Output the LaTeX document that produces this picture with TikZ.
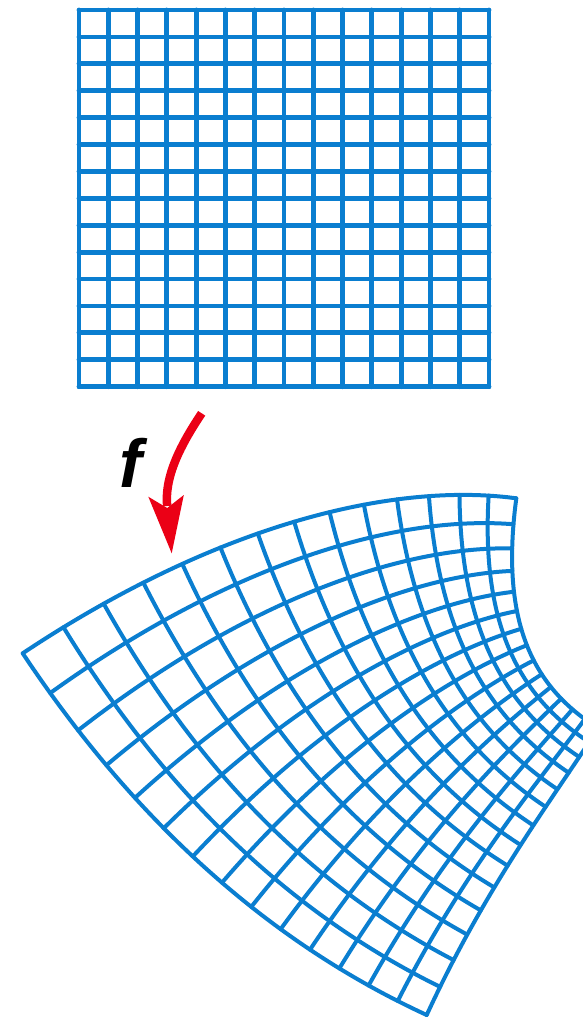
\documentclass[tikz,border=0pt]{standalone}
\usepackage{fontspec}
\setmainfont{Liberation Sans}
\definecolor{gridblue}{RGB}{10,126,208}
\definecolor{arrowred}{RGB}{235,0,22}
\begin{document}
\begin{tikzpicture}[x=1pt,y=1pt,
  topgrid/.style={draw=gridblue,line width=4.8pt,line join=round,line cap=round},
  mapgrid/.style={draw=gridblue,line width=4pt,line join=round,line cap=round},
  redshaft/.style={draw=arrowred,line width=8.5pt,line cap=butt},
  redhead/.style={fill=arrowred,draw=none},
  declare function={
    ReF(\a,\b)=22.7+574*(\a)-382.2*(\b)-43.65*((\a)*(\a)-(\b)*(\b))+249.05*2*(\a)*(\b)-36.75*((\a)*(\a)*(\a)-3*(\a)*(\b)*(\b))-21.85*(3*(\a)*(\a)*(\b)-(\b)*(\b)*(\b));
    ImF(\a,\b)=-653.3+382.2*(\a)+574*(\b)-249.05*((\a)*(\a)-(\b)*(\b))-43.65*2*(\a)*(\b)+21.85*((\a)*(\a)*(\a)-3*(\a)*(\b)*(\b))-36.75*(3*(\a)*(\a)*(\b)-(\b)*(\b)*(\b));
  }]
\useasboundingbox (0,0) rectangle (583,-1019);

% top rectangular grid
\foreach \k in {0,...,14} {
  \draw[topgrid] ({79+\k*410/14},-10) -- ({79+\k*410/14},-386.7);
  \draw[topgrid] (79,{-10-\k*376.7/14}) -- (489,{-10-\k*376.7/14});
}
\draw[topgrid] (79,-10) rectangle (489,-386.7);

% arrow f
\coordinate (arrowtail) at (201.7,-413.3);
\coordinate (arrownotch) at (167.2,-508);
\coordinate (arrowtip) at (171.7,-553.3);
\coordinate (wingleft) at (148.3,-496.7);
\coordinate (wingright) at (183.8,-495);
\draw[redshaft] (arrowtail) .. controls (184,-440) and (164,-474) .. ([yshift=2pt]arrownotch);
\fill[redhead] (arrowtip) -- (wingleft) -- (arrownotch) -- (wingright) -- cycle;
\node[inner sep=0pt,anchor=base,font=\fontsize{68}{68}\selectfont\bfseries\itshape] (flabel) at (131,-487) {f};

% conformal image of the grid
\begin{scope}
\clip (0,0) rectangle (583,-1019);
\foreach \k in {0,...,14} {
  \draw[mapgrid] plot[variable=\t,domain=0:1,samples=45,smooth] ({ReF(\k/14,-\t)},{ImF(\k/14,-\t)});
  \draw[mapgrid] plot[variable=\t,domain=0:1,samples=45,smooth] ({ReF(\t,-\k/14)},{ImF(\t,-\k/14)});
}
\end{scope}
\end{tikzpicture}
\end{document}
